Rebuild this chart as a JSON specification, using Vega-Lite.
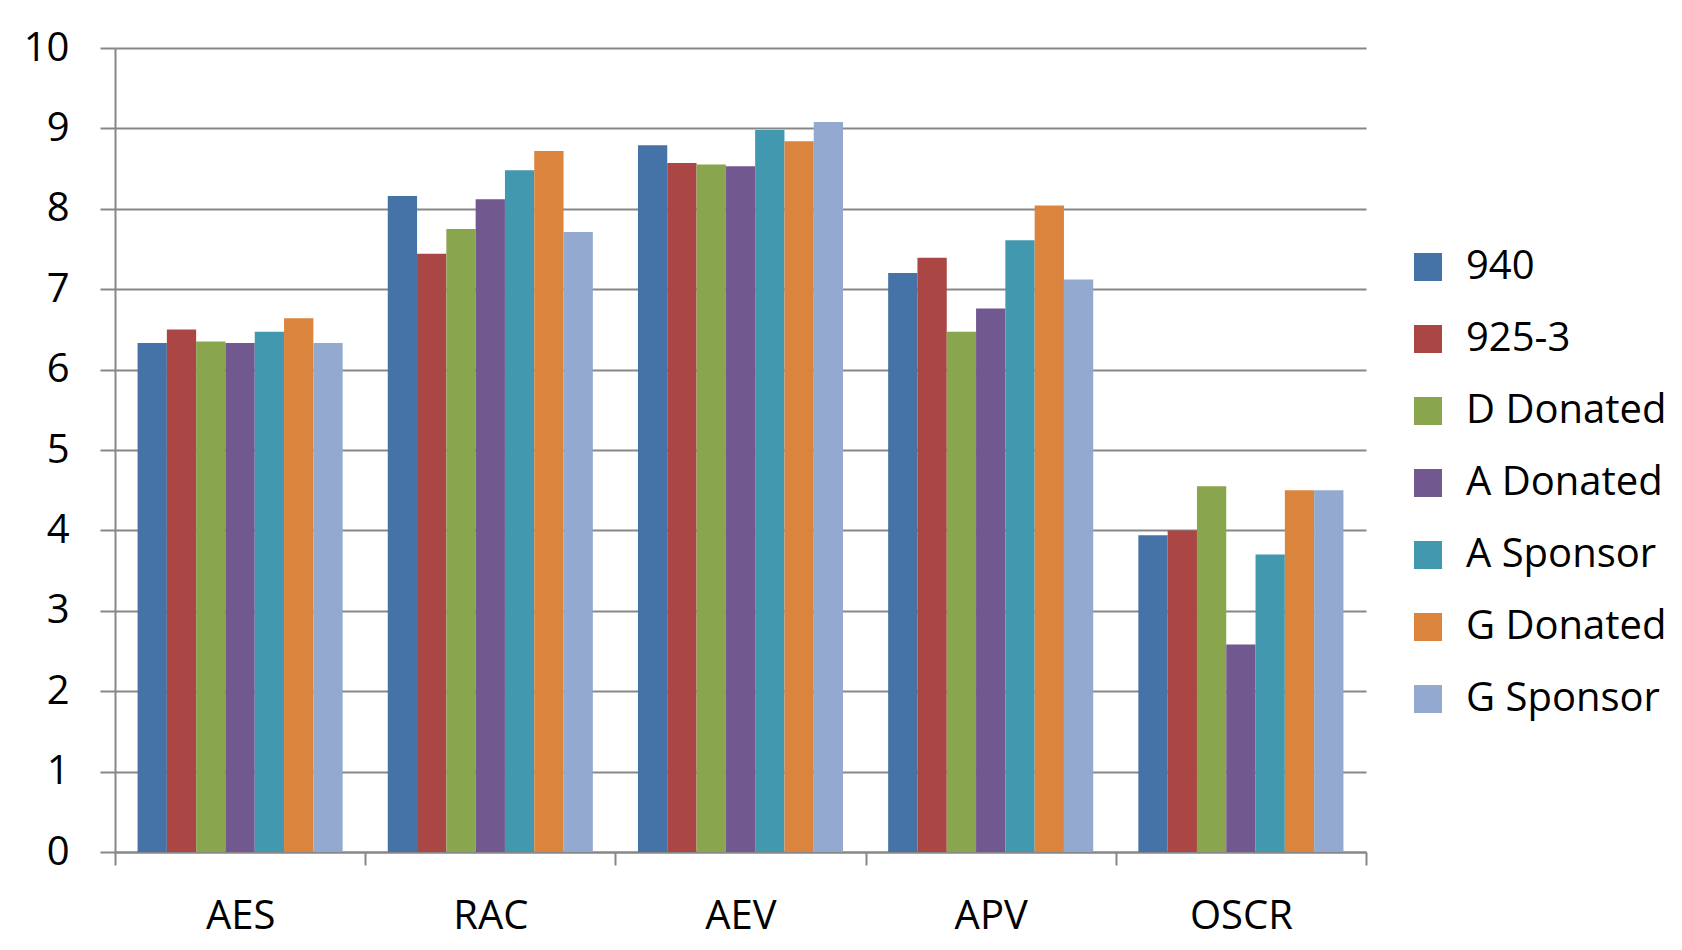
{
  "$schema": "https://vega.github.io/schema/vega-lite/v6.json",
  "autosize": "none",
  "width": 1251,
  "height": 804,
  "padding": {"left": 115, "top": 48, "right": 316, "bottom": 98},
  "background": "white",
  "config": {
    "view": {"stroke": null},
    "font": "Open Sans",
    "axis": {"labelFont": "Open Sans", "labelColor": "#000000", "domainColor": "#878787", "tickColor": "#878787", "gridColor": "#878787"},
    "legend": {"labelFont": "Open Sans"}
  },
  "data": {
    "values": [
      {"category": "AES", "series": "940", "value": 6.33},
      {"category": "AES", "series": "925-3", "value": 6.50},
      {"category": "AES", "series": "D Donated", "value": 6.35},
      {"category": "AES", "series": "A Donated", "value": 6.33},
      {"category": "AES", "series": "A Sponsor", "value": 6.47},
      {"category": "AES", "series": "G Donated", "value": 6.64},
      {"category": "AES", "series": "G Sponsor", "value": 6.33},
      {"category": "RAC", "series": "940", "value": 8.16},
      {"category": "RAC", "series": "925-3", "value": 7.44},
      {"category": "RAC", "series": "D Donated", "value": 7.75},
      {"category": "RAC", "series": "A Donated", "value": 8.12},
      {"category": "RAC", "series": "A Sponsor", "value": 8.48},
      {"category": "RAC", "series": "G Donated", "value": 8.72},
      {"category": "RAC", "series": "G Sponsor", "value": 7.71},
      {"category": "AEV", "series": "940", "value": 8.79},
      {"category": "AEV", "series": "925-3", "value": 8.57},
      {"category": "AEV", "series": "D Donated", "value": 8.55},
      {"category": "AEV", "series": "A Donated", "value": 8.53},
      {"category": "AEV", "series": "A Sponsor", "value": 8.98},
      {"category": "AEV", "series": "G Donated", "value": 8.84},
      {"category": "AEV", "series": "G Sponsor", "value": 9.08},
      {"category": "APV", "series": "940", "value": 7.20},
      {"category": "APV", "series": "925-3", "value": 7.39},
      {"category": "APV", "series": "D Donated", "value": 6.47},
      {"category": "APV", "series": "A Donated", "value": 6.76},
      {"category": "APV", "series": "A Sponsor", "value": 7.61},
      {"category": "APV", "series": "G Donated", "value": 8.04},
      {"category": "APV", "series": "G Sponsor", "value": 7.12},
      {"category": "OSCR", "series": "940", "value": 3.94},
      {"category": "OSCR", "series": "925-3", "value": 4.00},
      {"category": "OSCR", "series": "D Donated", "value": 4.55},
      {"category": "OSCR", "series": "A Donated", "value": 2.58},
      {"category": "OSCR", "series": "A Sponsor", "value": 3.70},
      {"category": "OSCR", "series": "G Donated", "value": 4.50},
      {"category": "OSCR", "series": "G Sponsor", "value": 4.50}
    ]
  },
  "mark": {"type": "bar"},
  "encoding": {
    "x": {
      "field": "category",
      "type": "nominal",
      "sort": ["AES", "RAC", "AEV", "APV", "OSCR"],
      "scale": {"paddingInner": 0, "paddingOuter": 0},
      "axis": {
        "title": null,
        "labelAngle": 0,
        "labelFontSize": 40,
        "labelBaseline": "alphabetic",
        "labelPadding": 63,
        "tickSize": 13,
        "tickWidth": 2,
        "domainWidth": 2,
        "tickBand": "extent",
        "grid": false
      }
    },
    "xOffset": {
      "field": "series",
      "type": "nominal",
      "sort": ["940", "925-3", "D Donated", "A Donated", "A Sponsor", "G Donated", "G Sponsor"],
      "scale": {"paddingInner": 0, "paddingOuter": 0.77}
    },
    "y": {
      "field": "value",
      "type": "quantitative",
      "scale": {"domain": [0, 10], "nice": false},
      "axis": {
        "title": null,
        "values": [0, 1, 2, 3, 4, 5, 6, 7, 8, 9, 10],
        "labelFontSize": 40,
        "labelPadding": 31,
        "tickSize": 15,
        "tickWidth": 2,
        "domainWidth": 2,
        "grid": true,
        "gridWidth": 2
      }
    },
    "color": {
      "field": "series",
      "type": "nominal",
      "scale": {
        "domain": ["940", "925-3", "D Donated", "A Donated", "A Sponsor", "G Donated", "G Sponsor"],
        "range": ["#4572A7", "#AA4643", "#89A54E", "#71588F", "#4198AF", "#DB843D", "#93A9CF"]
      },
      "legend": {
        "title": null,
        "orient": "none",
        "legendX": 1293,
        "legendY": 199,
        "padding": 0,
        "symbolType": "square",
        "symbolSize": 784,
        "symbolStrokeWidth": 0,
        "symbolOpacity": 1,
        "labelFontSize": 40,
        "labelOffset": 18,
        "rowPadding": 32,
        "labelLimit": 400
      }
    }
  }
}
